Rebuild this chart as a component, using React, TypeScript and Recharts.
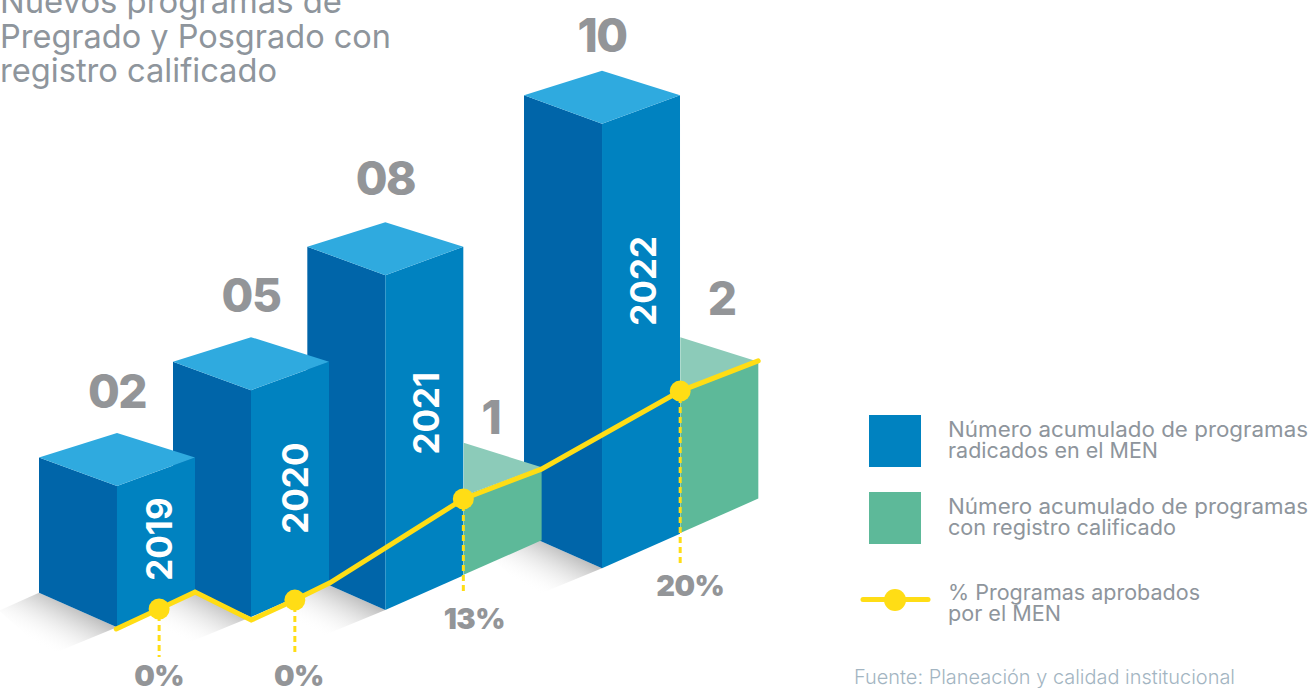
import React from "react";
import { ComposedChart, Bar, Line, XAxis, YAxis, Customized } from "recharts";

// ---- data ----
const years = [2019, 2020, 2021, 2022];
const radicados = [2, 5, 8, 10];
const registrados = [0, 0, 1, 2];
const blueLabels = ["02", "05", "08", "10"];
const blueSlots = [1.5, 3.218, 4.94, 7.718];
const blueFloor = [1.37, 1.6, 1.76, 2.7];
const blueRoof = [4.55, 6.71, 9.3, 12.71];
const greenSlots = [2.5, 4.218, 5.94, 8.718];
const greenFloor = [1.0, 1.0, 2.55, 3.49];
const greenRoof = [1.0, 1.0, 4.33, 6.71];

const lineSlots = [1.49, 2.04, 2.5, 3.22, 3.78, 4.23, 5.94, 6.94, 8.72, 9.72];
const lineLevels = [1.33, 1.78, 2.16, 1.53, 1.98, 2.37, 4.26, 4.93, 6.69, 7.37];
const lineYears = [null, 2019, null, null, 2020, null, 2021, null, 2022, null];
const lineShare = ["", "0%", "", "", "0%", "", "13%", "", "20%", ""];

// back-most bar first so that earlier years overlap later ones
const rows = years
  .map((year, i) => ({
    year,
    radicados: radicados[i],
    registrados: registrados[i],
    label: blueLabels[i],
    slot: blueSlots[i],
    greenSlot: greenSlots[i],
    blue: [blueFloor[i], blueRoof[i]],
    green: [greenFloor[i], greenRoof[i]],
  }))
  .reverse();

const lineRows = lineSlots.map((slot, i) => ({
  slot,
  level: lineLevels[i],
  year: lineYears[i],
  share: lineShare[i],
}));

// ---- styling ----
const W = 1312;
const H = 688;
const FONT = "Inter, 'Open Sans', sans-serif";
const GREY = "#939598";
const TEXT_GREY = "#8E959C";
const YELLOW = "#FFDD15";
const HALF = 78;
const TOP_SIDE = 28.5;
const TOP_PEAK = 53;
const BASE_SIDE = 34.5;

const yearStyle: Record<number, { drop: number; dx: number; labelY: number }> = {
  2019: { drop: 53, dx: 42, labelY: -78 },
  2020: { drop: 98, dx: 44, labelY: -78 },
  2021: { drop: 138, dx: 41, labelY: -80 },
  2022: { drop: 157, dx: 41, labelY: -72 },
};
const dropStyle: Record<number, { end: number; dx: number; base: number }> = {
  2019: { end: 48, dx: 0, base: 77 },
  2020: { end: 56, dx: 4, base: 86 },
  2021: { end: 92, dx: 11, base: 130 },
  2022: { end: 172, dx: 10, base: 205 },
};

const pts = (a: number[][]) => a.map((p) => p.join(",")).join(" ");

function BlueBox(props: any) {
  const { x, y, width, height, payload } = props;
  const cx = x + width / 2;
  const by = y + height;
  const s = yearStyle[payload.year];
  return (
    <g>
      <polygon
        points={pts([
          [cx, by],
          [cx - HALF, by - BASE_SIDE],
          [cx - HALF - 40, by - BASE_SIDE + 18],
          [cx - 68, by + 28],
        ])}
        fill="url(#floorShade)"
      />
      <polygon
        points={pts([
          [cx - HALF, y - TOP_SIDE],
          [cx, y],
          [cx, by],
          [cx - HALF, by - BASE_SIDE],
        ])}
        fill="#0065A9"
      />
      <polygon
        points={pts([
          [cx, y],
          [cx + HALF, y - TOP_SIDE],
          [cx + HALF, by - BASE_SIDE],
          [cx, by],
        ])}
        fill="#0082C0"
      />
      <polygon
        points={pts([
          [cx, y],
          [cx + HALF, y - TOP_SIDE],
          [cx, y - TOP_PEAK],
          [cx - HALF, y - TOP_SIDE],
        ])}
        fill="#2FAADF"
      />
      <text
        x={cx}
        y={y + s.labelY}
        textAnchor="middle"
        fontFamily={FONT}
        fontWeight={800}
        fontSize={46}
        letterSpacing={-1.5}
        fill={GREY}
      >
        {payload.label}
      </text>
      <text
        transform={`translate(${cx + s.dx},${y + s.drop}) rotate(-90)`}
        textAnchor="middle"
        dominantBaseline="central"
        fontFamily={FONT}
        fontWeight={700}
        fontSize={35}
        fill="#FFFFFF"
      >
        {payload.year}
      </text>
    </g>
  );
}

function GreenBox(props: any) {
  const { x, y, width, height, payload } = props;
  if (!payload.registrados) return null;
  const cx = x + width / 2;
  const by = y + height;
  return (
    <g>
      <polygon
        points={pts([
          [cx, y],
          [cx + HALF, y - TOP_SIDE],
          [cx + HALF, by - BASE_SIDE],
          [cx, by],
        ])}
        fill="#5DB999"
      />
      <polygon
        points={pts([
          [cx, y],
          [cx + HALF, y - TOP_SIDE],
          [cx, y - TOP_PEAK],
        ])}
        fill="#8CCBB9"
      />
      <text
        x={cx + (payload.year === 2021 ? 28 : 42)}
        y={y - (payload.year === 2021 ? 62 : 75)}
        textAnchor="middle"
        fontFamily={FONT}
        fontWeight={800}
        fontSize={46}
        fill={GREY}
      >
        {payload.registrados}
      </text>
    </g>
  );
}

function ShareDot(props: any) {
  const { cx, cy, payload } = props;
  if (!payload.year) return <g key={payload.slot} />;
  const s = dropStyle[payload.year];
  return (
    <g key={payload.slot}>
      <line
        x1={cx}
        y1={cy + 6}
        x2={cx}
        y2={cy + s.end}
        stroke={YELLOW}
        strokeWidth={3}
        strokeDasharray="6 4"
      />
      <circle cx={cx} cy={cy} r={10.5} fill={YELLOW} />
      <text
        x={cx + s.dx}
        y={cy + s.base}
        textAnchor="middle"
        fontFamily={FONT}
        fontWeight={900}
        fontSize={29}
        letterSpacing={-0.6}
        fill={GREY}
      >
        {payload.share}
      </text>
    </g>
  );
}

const textLine = (
  str: string,
  x: number,
  y: number,
  size: number,
  len: number,
  fill = TEXT_GREY,
  weight = 400
) => (
  <text
    key={str + y}
    x={x}
    y={y}
    fontFamily={FONT}
    fontSize={size}
    fontWeight={weight}
    fill={fill}
    textLength={len}
    lengthAdjust="spacingAndGlyphs"
  >
    {str}
  </text>
);

function Overlay() {
  return (
    <g>
      <defs>
        <linearGradient id="floorShade" x1="0.95" y1="0.25" x2="0.35" y2="0.85">
          <stop offset="0" stopColor="#8F8F8F" stopOpacity={0.95} />
          <stop offset="0.4" stopColor="#BDBDBD" stopOpacity={0.6} />
          <stop offset="1" stopColor="#FFFFFF" stopOpacity={0} />
        </linearGradient>
      </defs>
      {textLine("Nuevos programas de", 0, 13, 33, 342)}
      {textLine("Pregrado y Posgrado con", 0, 47.5, 33, 391)}
      {textLine("registro calificado", 0, 82, 33, 277)}

      <rect x={869} y={415} width={52} height={52} fill="#0082C0" />
      <rect x={869} y={492} width={52} height={52} fill="#5DB999" />
      <line x1={863} y1={599.5} x2={928} y2={599.5} stroke={YELLOW} strokeWidth={5} strokeLinecap="round" />
      <circle cx={895} cy={600} r={11} fill={YELLOW} />

      {textLine("Número acumulado de programas", 948, 437, 21, 360)}
      {textLine("radicados en el MEN", 948, 458, 21, 210)}
      {textLine("Número acumulado de programas", 948, 514, 21, 360)}
      {textLine("con registro calificado", 948, 535, 21, 228)}
      {textLine("% Programas aprobados", 948, 600, 21, 252)}
      {textLine("por el MEN", 948, 621, 21, 113)}
      {textLine("Fuente: Planeación y calidad institucional", 854, 684, 20, 381, "#A3B5C2", 300)}
    </g>
  );
}

export default function App() {
  return (
    <div style={{ position: "absolute", left: 0, top: 0, width: W, height: H, background: "#fff" }}>
      <ComposedChart
        width={W}
        height={H}
        data={rows}
        margin={{ top: 0, right: 0, bottom: 0, left: 0 }}
      >
        <XAxis xAxisId="blue" type="number" dataKey="slot" domain={[0, 16.82]} hide />
        <XAxis xAxisId="green" type="number" dataKey="greenSlot" domain={[0, 16.82]} hide />
        <YAxis type="number" domain={[0, 15.5]} hide />
        <Bar xAxisId="blue" dataKey="blue" barSize={156} shape={BlueBox} isAnimationActive={false} />
        <Bar xAxisId="green" dataKey="green" barSize={156} shape={GreenBox} isAnimationActive={false} />
        <Line
          xAxisId="blue"
          data={lineRows}
          dataKey="level"
          type="linear"
          stroke={YELLOW}
          strokeWidth={5}
          strokeLinecap="round"
          dot={ShareDot}
          activeDot={false}
          isAnimationActive={false}
        />
        <Customized component={Overlay} />
      </ComposedChart>
    </div>
  );
}
